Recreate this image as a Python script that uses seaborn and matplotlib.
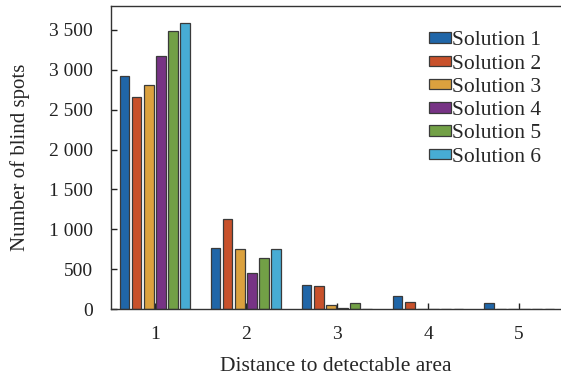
import matplotlib
matplotlib.use("Agg")
import matplotlib.pyplot as plt
import seaborn as sns
import pandas as pd

categories = ["1", "2", "3", "4", "5"]
solutions = ["Solution 1", "Solution 2", "Solution 3", "Solution 4", "Solution 5", "Solution 6"]
sol1 = [2920, 770, 298, 163, 79]
sol2 = [2655, 1127, 289, 84, 0]
sol3 = [2814, 750, 50, 0, 0]
sol4 = [3170, 456, 12, 0, 0]
sol5 = [3492, 645, 79, 0, 0]
sol6 = [3584, 750, 0, 0, 0]
colors = ["#2066a8", "#c8512b", "#dba13e", "#773385", "#72a046", "#47acd4"]
yticks = [0, 500, 1000, 1500, 2000, 2500, 3000, 3500]
yticklabels = ["0", "500", "1 000", "1 500", "2 000", "2 500", "3 000", "3 500"]

series = [sol1, sol2, sol3, sol4, sol5, sol6]
rows = []
for name, vals in zip(solutions, series):
    for c, v in zip(categories, vals):
        rows.append({"Distance": c, "Count": v, "Solution": name})
df = pd.DataFrame(rows)

sns.set_style("ticks")
plt.rcParams["font.family"] = ["Liberation Serif", "DejaVu Serif"]

fig = plt.figure(figsize=(5.61, 3.80), dpi=100)
ax = fig.add_axes([111/561, 71/380, 450/561, 303/380])

sns.barplot(data=df, x="Distance", y="Count", hue="Solution", order=categories,
            hue_order=solutions, palette=colors, saturation=1, width=0.8, gap=0.2,
            edgecolor="#3a3a3a", linewidth=0.9, ax=ax, errorbar=None)

ax.set_xlim(-0.48, 4.46)
ax.set_ylim(0, 3800)
ax.set_yticks(yticks)
ax.set_yticklabels(yticklabels)
ax.tick_params(direction="in", length=4, width=1, labelsize=14, colors="#222222")
ax.tick_params(axis="x", pad=12.5)
ax.tick_params(axis="y", pad=13)
for s in ["left", "bottom", "top"]:
    ax.spines[s].set_linewidth(1.0)
    ax.spines[s].set_color("#333333")
ax.spines["right"].set_visible(False)
ax.set_xlabel("Distance to detectable area", fontsize=15.5, labelpad=10)
ax.set_ylabel("Number of blind spots", fontsize=15, labelpad=14)

leg = ax.legend(loc="upper right", bbox_to_anchor=(0.976, 0.945), frameon=False,
                fontsize=15.5, handlelength=1.05, handleheight=0.38,
                handletextpad=0.06, labelspacing=0.2, borderaxespad=0)

fig.savefig("out.png", dpi=100)
